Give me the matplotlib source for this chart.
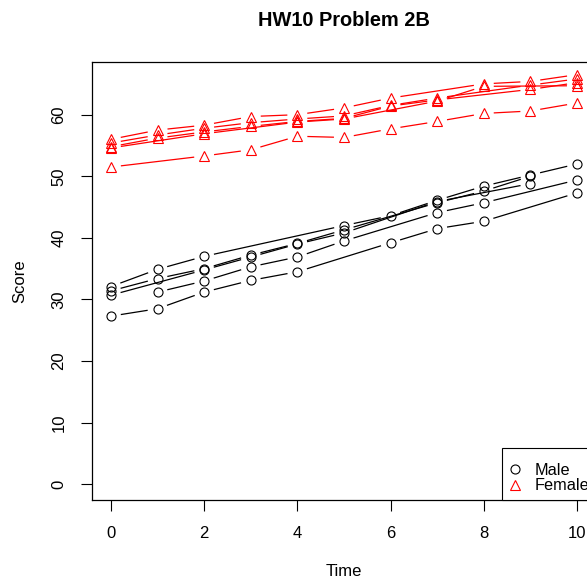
import numpy as np
import matplotlib
matplotlib.use("Agg")
import matplotlib.pyplot as plt
from matplotlib.lines import Line2D

plt.rcParams['font.family'] = ['Liberation Sans', 'DejaVu Sans']

male_t = [
    [0, 1, 2, 3, 4, 6, 7, 8, 10],
    [0, 1, 2, 5, 6, 7, 8, 9, 10],
    [0, 1, 2, 3, 4, 5, 7, 8, 9],
    [0, 2, 3, 4, 5, 7, 9],
    [1, 2, 3, 4, 5, 7, 8, 10],
]
male_y = [
    [27.3, 28.5, 31.2, 33.1, 34.5, 39.2, 41.5, 42.7, 47.3],
    [32.1, 34.9, 37.0, 42.0, 43.6, 46.1, 48.4, 50.2, 52.0],
    [31.4, 33.4, 35.0, 37.2, 39.1, 41.3, 45.7, 47.6, 50.0],
    [30.7, 34.8, 36.9, 39.0, 40.8, 45.9, 48.8],
    [31.2, 33.0, 35.3, 36.9, 39.5, 44.1, 45.7, 49.4],
]
female_t = [
    [0, 1, 2, 3, 4, 5, 6, 8, 9, 10],
    [0, 1, 2, 3, 4, 5, 6, 7, 9, 10],
    [0, 1, 2, 3, 4, 5, 6, 7, 9, 10],
    [0, 2, 4, 5, 7, 8, 10],
    [0, 2, 3, 4, 5, 6, 7, 8, 9, 10],
]
female_y = [
    [56.0, 57.5, 58.3, 59.7, 60.0, 61.1, 62.7, 65.0, 65.4, 66.5],
    [55.4, 56.7, 57.8, 58.7, 59.3, 59.8, 61.5, 62.7, 64.8, 65.8],
    [54.8, 56.2, 57.2, 58.1, 58.9, 59.4, 61.4, 62.4, 64.1, 65.2],
    [54.6, 56.9, 58.8, 59.3, 62.2, 64.6, 64.7],
    [51.5, 53.3, 54.3, 56.5, 56.3, 57.7, 58.9, 60.2, 60.6, 61.9],
]
groups = ["Male", "Female"]
x_ticks = [0, 2, 4, 6, 8, 10]
y_ticks = [0, 10, 20, 30, 40, 50, 60]

W, H = 587, 585
fig = plt.figure(figsize=(W / 100, H / 100), dpi=100)
# plot region runs past the right edge, like the original
ax = fig.add_axes([92.3 / W, (H - 500) / H, (595.6 - 92.3) / W, (500 - 61.7) / H])
ax.set_xlim(-0.4, 10.4)
ax.set_ylim(-2.55, 68.6)


def gapped(ax, t, y, color, gap=10):
    # R type="b": segments stop short of each point
    pts = ax.transData.transform(np.column_stack([t, y]))
    inv = ax.transData.inverted()
    for p0, p1 in zip(pts[:-1], pts[1:]):
        d = p1 - p0
        L = np.hypot(*d)
        if L <= 2 * gap:
            continue
        u = d / L
        seg = inv.transform([p0 + u * gap, p1 - u * gap])
        ax.plot(seg[:, 0], seg[:, 1], color=color, lw=0.9, solid_capstyle='butt')


for t, y in zip(male_t, male_y):
    gapped(ax, t, y, 'black')
    ax.plot(t, y, ls='none', marker='o', ms=6.5, mfc='none', mec='black', mew=0.8)
for t, y in zip(female_t, female_y):
    gapped(ax, t, y, 'red')
    ax.plot(t, y, ls='none', marker='^', ms=7.5, mfc='none', mec='red', mew=0.8)

ax.set_xticks(x_ticks)
ax.set_yticks(y_ticks)
ax.tick_params(direction='out', length=7.7, width=0.8, labelsize=12, pad=11)
for lbl in ax.get_yticklabels():
    lbl.set_rotation(90)
    lbl.set_va('center')
for s in ax.spines.values():
    s.set_linewidth(0.9)

handles = [
    Line2D([], [], ls='none', marker='o', ms=6.5, mfc='none', mec='black', mew=0.8),
    Line2D([], [], ls='none', marker='^', ms=7.5, mfc='none', mec='red', mew=0.8),
]
# blank tiny title gives the extra room at the top of R's legend box
leg = ax.legend(handles, groups, loc='lower right', borderaxespad=0, fontsize=11.7,
                fancybox=False, framealpha=1, edgecolor='black', handlelength=0.8,
                handletextpad=0.8, borderpad=0.4, labelspacing=0.05,
                title=' ', title_fontsize=6)
leg.get_frame().set_linewidth(0.8)

cx = (92.3 + 595.6) / 2 / W
fig.text(cx, 1 - 20 / H, "HW10 Problem 2B", ha='center', va='center',
         fontsize=14.4, fontweight='bold')
fig.text(cx, 1 - 572 / H, "Time", ha='center', va='center', fontsize=12)
fig.text(19.5 / W, 1 - 281 / H, "Score", ha='center', va='center', fontsize=12, rotation=90)

fig.savefig("out.png", dpi=100)
